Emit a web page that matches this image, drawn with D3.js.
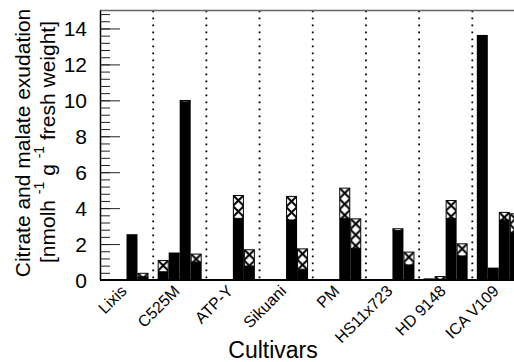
<!DOCTYPE html>
<html>
<head>
<meta charset="utf-8">
<script src="https://cdn.jsdelivr.net/npm/d3@7"></script>
<style>
  body { margin: 0; background: #fff; }
  svg { display: block; }
  svg text { font-family: "Liberation Sans", Arial, sans-serif; }
</style>
</head>
<body>
<svg id="chart" width="514" height="362"></svg>
<script>
// cultivars along x, four bars (treatments) per cultivar
const cultivars = ["Lixis", "C525M", "ATP-Y", "Sikuani", "PM", "HS11x723", "HD 9148", "ICA V109"];
const treatments = [0, 1, 2, 3];

// black part of each bar (bottom)
const citrate = [
    [0, 0, 2.55, 0.18],
    [0.46, 1.53, 9.92, 1.0],
    [0, 0, 3.43, 0.78],
    [0, 0, 3.34, 0.6],
    [0, 0, 3.43, 1.76],
    [0, 0, 2.75, 0.84],
    [0.09, 0.04, 3.43, 1.34],
    [13.64, 0.69, 3.34, 2.66],
];
// cross-hatched part (stacked on top)
const malate = [
    [0, 0, 0, 0.22],
    [0.65, 0, 0.1, 0.47],
    [0, 0, 1.3, 0.93],
    [0, 0, 1.34, 1.16],
    [0, 0, 1.71, 1.67],
    [0, 0, 0.13, 0.74],
    [0, 0.18, 1.02, 0.7],
    [0, 0, 0.45, 1.05],
];
const yTicks = [0, 2, 4, 6, 8, 10, 12, 14];
const yMinorStep = 0.4;

const svg = d3.select("#chart");
const margin = { left: 100, bottom: 280 };

const x0 = d3.scaleBand().domain(cultivars).range([margin.left, 525.5]).padding(0);
const x1 = d3.scaleBand().domain(treatments).range([4.5, 48.5]).padding(0);
const y = d3.scaleLinear().domain([0, 15]).range([margin.bottom, 10.5]);
const yTop = y.range()[1];

// hatch pattern: one per bar so the X's line up with the bar
const defs = svg.append("defs");
const rows = [];
cultivars.forEach((c, i) => {
    treatments.forEach(t => {
        rows.push({ c, t, cit: citrate[i][t], mal: malate[i][t], id: `h${i}_${t}` });
    });
});

const bw = x1.bandwidth();
rows.forEach(d => {
    const p = defs.append("pattern")
        .attr("id", d.id)
        .attr("patternUnits", "userSpaceOnUse")
        .attr("x", x0(d.c) + x1(d.t))
        .attr("y", y(d.cit + d.mal))
        .attr("width", bw)
        .attr("height", bw);
    p.append("rect").attr("width", bw).attr("height", bw).attr("fill", "#fff");
    p.append("path")
        .attr("d", `M0,0L${bw},${bw}M${bw},0L0,${bw}`)
        .attr("stroke", "#000")
        .attr("stroke-width", 2);
});

// dotted separators between cultivars
svg.append("g")
    .selectAll("line")
    .data(cultivars.slice(1))
    .enter()
    .append("line")
    .attr("x1", d => x0(d))
    .attr("x2", d => x0(d))
    .attr("y1", yTop)
    .attr("y2", y(0))
    .attr("stroke", "#000")
    .attr("stroke-width", 1.8)
    .attr("stroke-dasharray", "1.8 5.2");

// bars
const bars = svg.append("g");
bars.selectAll("rect.cit")
    .data(rows.filter(d => d.cit > 0))
    .enter()
    .append("rect")
    .attr("class", "cit")
    .attr("x", d => x0(d.c) + x1(d.t))
    .attr("y", d => y(d.cit))
    .attr("width", bw)
    .attr("height", d => y(0) - y(d.cit))
    .attr("fill", "#000");

bars.selectAll("rect.mal")
    .data(rows.filter(d => d.mal > 0))
    .enter()
    .append("rect")
    .attr("class", "mal")
    .attr("x", d => x0(d.c) + x1(d.t) + 0.5)
    .attr("y", d => y(d.cit + d.mal) + 0.5)
    .attr("width", bw - 1)
    .attr("height", d => Math.max(0.5, y(d.cit) - y(d.cit + d.mal) - 0.5))
    .attr("fill", d => `url(#${d.id})`)
    .attr("stroke", "#000")
    .attr("stroke-width", 1);

// y ticks drawn inward
const minor = d3.range(0, 15, yMinorStep);
svg.append("g")
    .attr("transform", `translate(${margin.left},0)`)
    .call(d3.axisRight(y).tickValues(minor).tickSize(10).tickFormat(""))
    .call(g => g.select(".domain").remove())
    .selectAll("line").attr("stroke", "#222");
svg.append("g")
    .attr("transform", `translate(${margin.left},0)`)
    .call(d3.axisRight(y).tickValues(yTicks).tickSize(20).tickFormat(""))
    .call(g => g.select(".domain").remove())
    .selectAll("line").attr("stroke", "#222");

// y tick labels
svg.append("g")
    .selectAll("text")
    .data(yTicks)
    .enter()
    .append("text")
    .attr("x", margin.left - 13)
    .attr("y", d => y(d))
    .attr("dy", "0.36em")
    .attr("text-anchor", "end")
    .style("font-size", "21px")
    .text(d => d);

// frame lines
svg.append("line")
    .attr("x1", margin.left).attr("x2", 514)
    .attr("y1", yTop).attr("y2", yTop)
    .attr("stroke", "#666").attr("stroke-width", 1.5);
svg.append("line")
    .attr("x1", margin.left + 0.5).attr("x2", margin.left + 0.5)
    .attr("y1", yTop).attr("y2", y(0))
    .attr("stroke", "#000").attr("stroke-width", 1.5);
svg.append("line")
    .attr("x1", margin.left).attr("x2", 514)
    .attr("y1", y(0)).attr("y2", y(0))
    .attr("stroke", "#000").attr("stroke-width", 2);

// x tick labels, rotated 45 degrees, right end at the anchor
svg.append("g")
    .selectAll("text")
    .data(cultivars)
    .enter()
    .append("text")
    .attr("transform", d => `translate(${x0(d) + x0.bandwidth() / 2 + 1},292) rotate(-45)`)
    .attr("text-anchor", "end")
    .style("font-size", "16px")
    .text(d => d);

// axis titles
svg.append("text")
    .attr("x", 273)
    .attr("y", 358)
    .attr("text-anchor", "middle")
    .style("font-size", "23px")
    .text("Cultivars");

svg.append("text")
    .attr("transform", "translate(30,143) rotate(-90)")
    .attr("text-anchor", "middle")
    .style("font-size", "21px")
    .text("Citrate and malate exudation");

const t2 = svg.append("text")
    .attr("transform", "translate(55,142) rotate(-90)")
    .attr("text-anchor", "middle")
    .style("font-size", "21px");
t2.append("tspan").text("[nmolh ");
t2.append("tspan").attr("dy", -11).style("font-size", "14px").text("-1");
t2.append("tspan").attr("dy", 11).text(" g ");
t2.append("tspan").attr("dy", -11).style("font-size", "14px").text("-1");
t2.append("tspan").attr("dy", 11).text("  fresh weight]");
</script>
</body>
</html>
